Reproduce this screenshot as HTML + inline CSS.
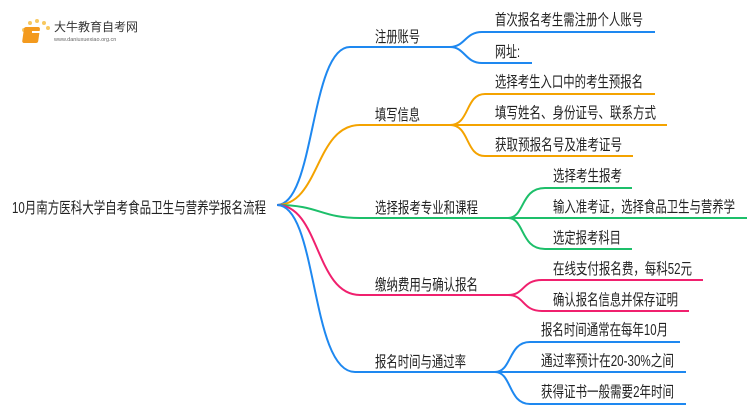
<!DOCTYPE html>
<html><head><meta charset="utf-8"><style>
body{margin:0;background:#fff;}
svg text{font-family:"Liberation Sans","Noto Sans CJK SC",sans-serif;font-size:15.5px;fill:#222;}
</style></head><body>
<svg width="750" height="410" viewBox="0 0 750 410" xmlns="http://www.w3.org/2000/svg">
<g fill="none" stroke-width="2">
<path d="M277,205 C315,205 310,47 350,47 L450,47" stroke="#1e88f0"/>
<path d="M450,47 C465,47 465,32 482,32 L655,32" stroke="#1e88f0"/>
<path d="M450,47 C465,47 465,63 482,63 L532,63" stroke="#1e88f0"/>
<path d="M277,205 C320,205 315,125 360,125 L450,125" stroke="#f4a300"/>
<path d="M450,125 C470,125 465,94 485,94 L655,94" stroke="#f4a300"/>
<path d="M450,125 L667,125" stroke="#f4a300"/>
<path d="M450,125 C470,125 465,156 485,156 L633,156" stroke="#f4a300"/>
<path d="M277,205 C320,205 320,218 360,218 L508,218" stroke="#1dbf6a"/>
<path d="M508,218 C525,218 520,188 545,188 L632,188" stroke="#1dbf6a"/>
<path d="M508,218 L747,218" stroke="#1dbf6a"/>
<path d="M508,218 C525,218 520,249 545,249 L632,249" stroke="#1dbf6a"/>
<path d="M277,205 C320,205 315,295 360,295 L508,295" stroke="#f0206e"/>
<path d="M508,295 C525,295 522,280 542,280 L703,280" stroke="#f0206e"/>
<path d="M508,295 C525,295 522,311 542,311 L689,311" stroke="#f0206e"/>
<path d="M277,205 C318,205 310,372 355,372 L495,372" stroke="#1e88f0"/>
<path d="M495,372 C512,372 508,342 530,342 L680,342" stroke="#1e88f0"/>
<path d="M495,372 L686,372" stroke="#1e88f0"/>
<path d="M495,372 C512,372 508,404 530,404 L686,404" stroke="#1e88f0"/>
</g>
<g>
<text x="12" y="213" style="font-size:15.5px" textLength="254" lengthAdjust="spacingAndGlyphs">10月南方医科大学自考食品卫生与营养学报名流程</text>
<text x="375" y="42" textLength="45" lengthAdjust="spacingAndGlyphs">注册账号</text>
<text x="375" y="120" textLength="45" lengthAdjust="spacingAndGlyphs">填写信息</text>
<text x="375" y="213" textLength="103" lengthAdjust="spacingAndGlyphs">选择报考专业和课程</text>
<text x="375" y="290" textLength="103" lengthAdjust="spacingAndGlyphs">缴纳费用与确认报名</text>
<text x="375" y="367" textLength="91" lengthAdjust="spacingAndGlyphs">报名时间与通过率</text>
<text x="495" y="25" textLength="148" lengthAdjust="spacingAndGlyphs">首次报名考生需注册个人账号</text>
<text x="495" y="57" textLength="25" lengthAdjust="spacingAndGlyphs">网址:</text>
<text x="495" y="87" textLength="148" lengthAdjust="spacingAndGlyphs">选择考生入口中的考生预报名</text>
<text x="495" y="118" textLength="161" lengthAdjust="spacingAndGlyphs">填写姓名、身份证号、联系方式</text>
<text x="495" y="150" textLength="127" lengthAdjust="spacingAndGlyphs">获取预报名号及准考证号</text>
<text x="553" y="181" textLength="69" lengthAdjust="spacingAndGlyphs">选择考生报考</text>
<text x="553" y="212" textLength="182" lengthAdjust="spacingAndGlyphs">输入准考证，选择食品卫生与营养学</text>
<text x="553" y="243" textLength="68" lengthAdjust="spacingAndGlyphs">选定报考科目</text>
<text x="553" y="274" textLength="139" lengthAdjust="spacingAndGlyphs">在线支付报名费，每科52元</text>
<text x="553" y="305" textLength="125" lengthAdjust="spacingAndGlyphs">确认报名信息并保存证明</text>
<text x="541" y="335" textLength="127" lengthAdjust="spacingAndGlyphs">报名时间通常在每年10月</text>
<text x="541" y="366" textLength="133" lengthAdjust="spacingAndGlyphs">通过率预计在20-30%之间</text>
<text x="541" y="397" textLength="133" lengthAdjust="spacingAndGlyphs">获得证书一般需要2年时间</text>
</g>
<g>
<circle cx="24" cy="30" r="2" fill="#f8c860"/><circle cx="30" cy="23" r="2" fill="#f8c860"/><circle cx="37" cy="21" r="2" fill="#f8c860"/><circle cx="44" cy="23" r="2" fill="#f8c860"/><circle cx="48" cy="28" r="2" fill="#f8c860"/>
<rect x="28" y="27" width="16" height="16" rx="2" fill="#f39a1e" transform="skewX(-8)"/>
<rect x="32" y="31" width="9" height="2" fill="#fff"/>
<text x="54" y="31" style="font-size:12px;fill:#333">大牛教育自考网</text>
<text x="54" y="41" style="font-size:5.5px;fill:#666">www.daniuxuexiao.org.cn</text>
</g>
</svg>
</body></html>
